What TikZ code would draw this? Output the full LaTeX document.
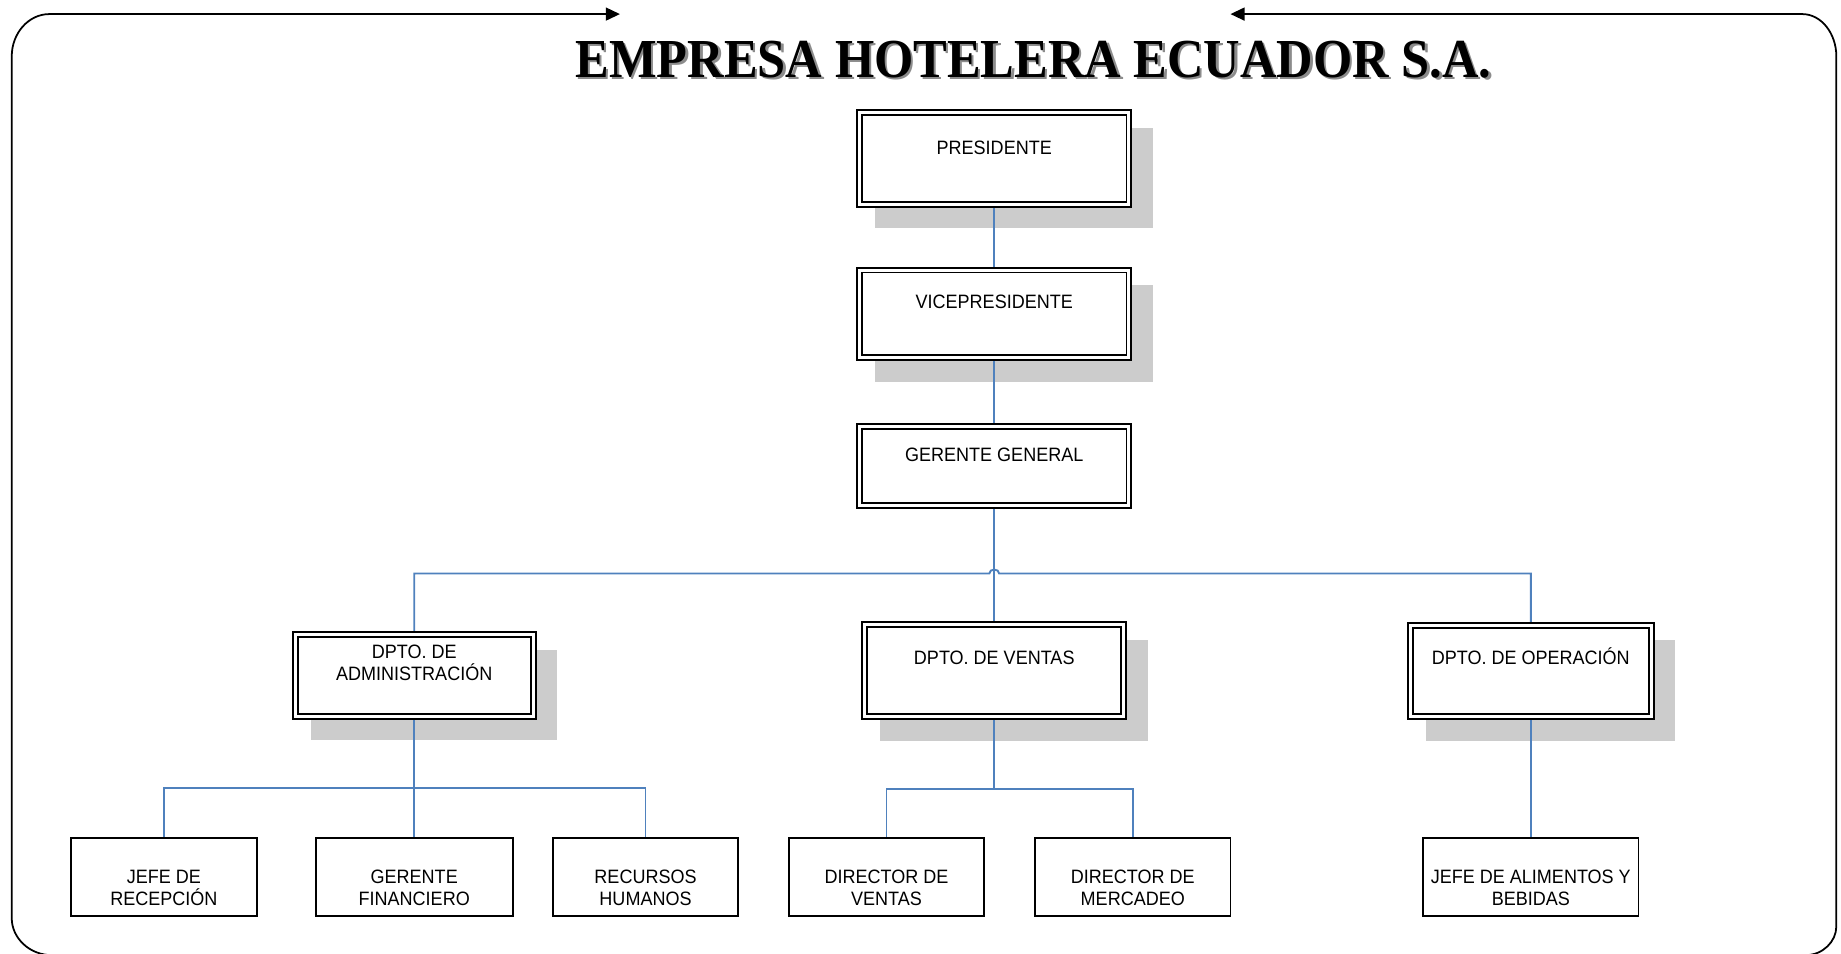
\documentclass[tikz,border=0pt]{standalone}
\usepackage{graphicx}
\usepackage{fontspec}
\setmainfont{Liberation Sans}
\newfontfamily\boxfont[FakeStretch=0.93]{Liberation Sans}
\newfontfamily\titlefont{Liberation Serif}
\usetikzlibrary{arrows.meta,backgrounds}
\definecolor{connblue}{RGB}{79,129,189}
\definecolor{shadowgray}{RGB}{204,204,204}
\begin{document}
\begin{tikzpicture}[x=1pt,y=-1pt,
  dbox/.style={draw, double, line width=1.6pt, double distance=2.6pt, fill=white, inner sep=0pt},
  sbox/.style={draw, line width=1.4pt, fill=white, inner sep=0pt},
  lbl/.style={font=\boxfont\fontsize{16.5}{18.7}\selectfont, align=center, inner sep=0pt},
  conn/.style={draw=connblue, line width=1.6pt},
  frameline/.style={line width=1.5pt, draw=black}]
\useasboundingbox (0,0) rectangle (1568,812.5);

% frame
\draw[frameline, {Triangle[length=12pt,width=11pt]}-{Triangle[length=12pt,width=11pt]}]
  (528,12) -- (42,12) .. controls (24.4,12) and (10,28.2) .. (10,48)
  -- (10,782) .. controls (10,799) and (25.3,813.5) .. (44,813.5)
  -- (1538,813.5) .. controls (1552.3,813.5) and (1564,802) .. (1564,789)
  -- (1564,48) .. controls (1564,28.2) and (1551,12) .. (1535,12)
  -- (1048,12);

% title
\node[anchor=base west, inner sep=0pt, text=black!45] (titleshadow) at (492,68)
  {\resizebox{780pt}{31pt}{\titlefont\bfseries EMPRESA HOTELERA ECUADOR S.A.}};
\node[anchor=base west, inner sep=0pt] (title) at (490,66)
  {\resizebox{780pt}{31pt}{\titlefont\bfseries EMPRESA HOTELERA ECUADOR S.A.}};

% boxes
\node[dbox, minimum width=229.4pt, minimum height=78.2pt] (pres) at (846.8,134.8) {};
\node[dbox, minimum width=229.4pt, minimum height=74.8pt] (vice) at (846.8,267.4) {};
\node[dbox, minimum width=229.4pt, minimum height=67.2pt] (ger) at (846.8,396.6) {};
\node[dbox, minimum width=202.6pt, minimum height=69.8pt] (adm) at (352.8,575.3) {};
\node[dbox, minimum width=220.4pt, minimum height=78.5pt] (ven) at (846.8,571.2) {};
\node[dbox, minimum width=204.9pt, minimum height=78pt] (ope) at (1303.8,571.4) {};

\node[sbox, minimum width=158.8pt, minimum height=66.2pt] (jefe) at (139.6,746.8) {};
\node[sbox, minimum width=167.7pt, minimum height=66.2pt] (gfin) at (352.8,746.8) {};
\node[sbox, minimum width=157.2pt, minimum height=66.2pt] (rrhh) at (549.8,746.8) {};
\node[sbox, minimum width=165.7pt, minimum height=66.2pt] (dv) at (755,746.8) {};
\node[sbox, minimum width=166.3pt, minimum height=66.2pt] (dm) at (964.8,746.8) {};
\node[sbox, minimum width=183.7pt, minimum height=66.2pt] (jab) at (1303.8,746.8) {};

% texts
\node[lbl, anchor=base] (presT) at (846.8,131.3) {PRESIDENTE};
\node[lbl, anchor=base] (viceT) at (846.8,262.4) {VICEPRESIDENTE};
\node[lbl, anchor=base] (gerT) at (846.8,393.2) {GERENTE GENERAL};
\node[lbl, anchor=north] (admT) at (352.8,549.4) {DPTO. DE\\ADMINISTRACIÓN};
\node[lbl, anchor=base] (venT) at (846.8,565.9) {DPTO. DE VENTAS};
\node[lbl, anchor=base] (opeT) at (1303.8,565.9) {DPTO. DE OPERACIÓN};
\node[lbl, anchor=north] (jefeT) at (139.6,741) {JEFE DE\\RECEPCIÓN};
\node[lbl, anchor=north] (gfinT) at (352.8,741) {GERENTE\\FINANCIERO};
\node[lbl, anchor=north] (rrhhT) at (549.8,741) {RECURSOS\\HUMANOS};
\node[lbl, anchor=north] (dvT) at (755,741) {DIRECTOR DE\\VENTAS};
\node[lbl, anchor=north] (dmT) at (964.8,741) {DIRECTOR DE\\MERCADEO};
\node[lbl, anchor=north] (jabT) at (1303.8,741) {JEFE DE ALIMENTOS Y\\BEBIDAS};

\coordinate (hop) at (846.8,488.5);
\coordinate (busA) at (352.8,671.5);
\coordinate (busB) at (846.8,672);

\begin{scope}[on background layer]
  \foreach \n in {pres,vice,adm,ven,ope}
    \fill[shadowgray] ([shift={(13.8,13.8)}]\n.north west) rectangle ([shift={(19.6,19.6)}]\n.south east);
  \draw[conn] (pres.south) -- (vice.north);
  \draw[conn] (vice.south) -- (ger.north);
  \draw[conn] (ger.south) -- (ven.north);
  \draw[conn] (adm.north) -- (adm.north |- hop) -- ([xshift=-4.2pt]hop)
    .. controls ([shift={(-4.2,-4.5)}]hop) and ([shift={(4.2,-4.5)}]hop) .. ([xshift=4.2pt]hop)
    -- (ope.north |- hop) -- (ope.north);
  \draw[conn] (adm.south) -- (gfin.north);
  \draw[conn] (jefe.north) -- (jefe.north |- busA) -- (rrhh.north |- busA) -- (rrhh.north);
  \draw[conn] (ven.south) -- (busB);
  \draw[conn] (dv.north) -- (dv.north |- busB) -- (dm.north |- busB) -- (dm.north);
  \draw[conn] (ope.south) -- (jab.north);
\end{scope}
\end{tikzpicture}
\end{document}
